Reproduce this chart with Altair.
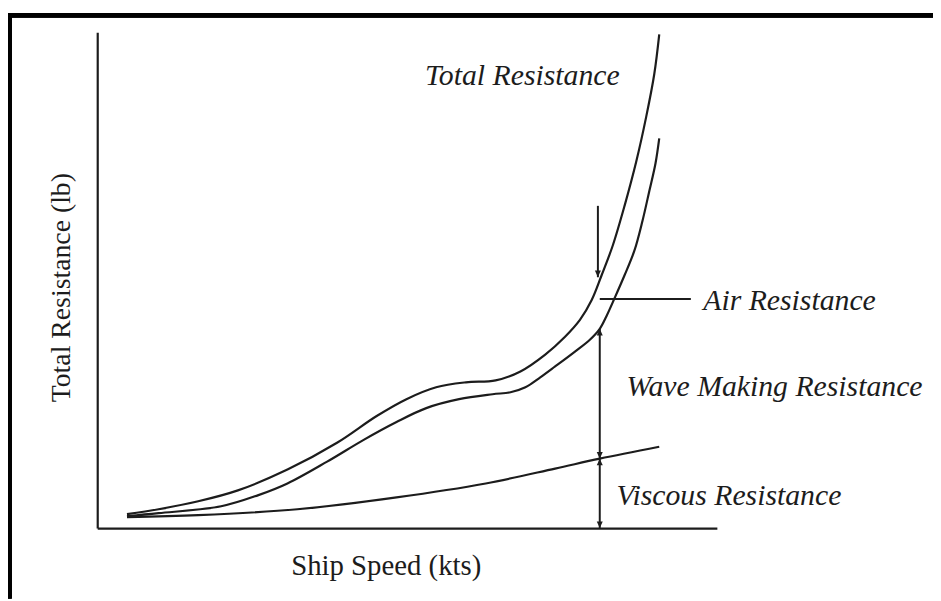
import altair as alt
import pandas as pd

# ---- data (speed 0-100, resistance 0-100, arbitrary units) ----
total_speed = [4.8, 9.9, 16.3, 22.7, 30.7, 38.7, 45.1, 49.9, 54.7, 59.5, 64.3, 68.3, 72.3,
               75.5, 77.9, 79.8, 81.4, 83.2, 85.1, 87.0, 88.6, 89.9, 90.7]
total_res = [2.8, 3.8, 5.4, 7.6, 11.8, 17.2, 22.6, 26.0, 28.4, 29.4, 29.8, 31.6, 35.0,
             38.6, 42.0, 46.0, 51.0, 57.0, 65.0, 74.0, 83.0, 91.6, 99.6]

wave_speed = [4.8, 9.9, 20.0, 25.9, 30.7, 37.1, 43.0, 48.3, 53.1, 58.4, 63.8, 66.7, 69.1,
              71.5, 73.9, 77.1, 79.5, 81.1, 82.2, 83.5, 85.1, 86.7, 88.0, 89.1, 90.1, 90.7]
wave_res = [2.4, 3.0, 4.4, 6.6, 9.0, 13.4, 17.8, 21.4, 24.2, 26.0, 27.0, 27.4, 28.4,
            30.4, 32.6, 35.6, 38.0, 40.2, 42.8, 46.4, 51.0, 56.0, 62.0, 68.0, 73.6, 78.6]

visc_speed = [4.8, 16.3, 32.3, 48.3, 62.7, 73.9, 81.1, 90.7]
visc_res = [2.2, 2.6, 3.8, 6.2, 9.0, 12.0, 14.0, 16.4]

# annotation labels and their anchor points (data units)
label_text = ["Total Resistance", "Air Resistance", "Wave Making Resistance", "Viscous Resistance"]
label_speed = [52.9, 97.8, 85.4, 83.8]
label_res = [89.4, 44.0, 26.6, 4.6]

# arrows / leader lines (data units)
seg_name = ["air_arrow", "air_leader", "wave_span", "visc_span"]
seg_x1 = [80.8, 81.1, 81.1, 81.1]
seg_x2 = [80.8, 95.8, 81.1, 81.1]
seg_y1 = [65.0, 46.2, 40.2, 14.0]
seg_y2 = [50.6, 46.2, 14.0, 0.0]

head_x = [80.8, 81.1, 81.1, 81.1, 81.1]
head_y = [50.6, 40.2, 14.0, 14.0, 0.0]
head_dir = ["down", "up", "down", "up", "down"]

# ---- tables ----
curves = pd.concat([
    pd.DataFrame({"speed": total_speed, "res": total_res, "curve": "total"}),
    pd.DataFrame({"speed": wave_speed, "res": wave_res, "curve": "wave"}),
    pd.DataFrame({"speed": visc_speed, "res": visc_res, "curve": "viscous"}),
], ignore_index=True)
labels = pd.DataFrame({"text": label_text, "speed": label_speed, "res": label_res})
segs = pd.DataFrame({"name": seg_name, "x1": seg_x1, "x2": seg_x2, "y1": seg_y1, "y2": seg_y2})
heads = pd.DataFrame({"x": head_x, "y": head_y, "dir": head_dir})

INK = "#1c1c1c"
xscale = alt.Scale(domain=[0, 100], nice=False, zero=False)
yscale = alt.Scale(domain=[0, 100], nice=False, zero=False)

xaxis = alt.Axis(title="Ship Speed (kts)", ticks=False, labels=False, grid=False,
                 domainColor=INK, domainWidth=2.2,
                 titleFont="Liberation Serif", titleFontSize=29, titleFontWeight="normal",
                 titleColor=INK, titleX=291, titleY=38, titleAlign="center", titleBaseline="middle")
yaxis = alt.Axis(title="Total Resistance (lb)", ticks=False, labels=False, grid=False,
                 domainColor=INK, domainWidth=2.2,
                 titleFont="Liberation Serif", titleFontSize=28, titleFontWeight="normal",
                 titleColor=INK, titleX=-36, titleY=257, titleAlign="center", titleBaseline="middle",
                 titleAngle=-90)

lines = alt.Chart(curves).mark_line(color=INK, strokeWidth=2.2, interpolate="catmull-rom").encode(
    x=alt.X("speed:Q", scale=xscale, axis=xaxis),
    y=alt.Y("res:Q", scale=yscale, axis=yaxis),
    detail="curve:N",
)

rules = alt.Chart(segs).mark_rule(color=INK, strokeWidth=2).encode(
    x="x1:Q", x2="x2:Q", y="y1:Q", y2="y2:Q"
)

down_path = "M-0.45,-1L0.45,-1L0,0Z"
up_path = "M-0.45,1L0.45,1L0,0Z"
heads_down = alt.Chart(heads).transform_filter(alt.datum.dir == "down").mark_point(
    shape=down_path, filled=True, color=INK, size=180, opacity=1
).encode(x="x:Q", y="y:Q")
heads_up = alt.Chart(heads).transform_filter(alt.datum.dir == "up").mark_point(
    shape=up_path, filled=True, color=INK, size=180, opacity=1
).encode(x="x:Q", y="y:Q")

texts = alt.Chart(labels).mark_text(
    font="Liberation Serif", fontStyle="italic", fontSize=30, color=INK,
    align="left", baseline="alphabetic"
).encode(x="speed:Q", y="res:Q", text="text:N")

# decorative page frame (top and left edges only)
frame_top = alt.Chart(labels).mark_rule(color="black", strokeWidth=4.5).encode(
    x=alt.value(-91), x2=alt.value(843), y=alt.value(-17.2)
)
frame_left = alt.Chart(labels).mark_rule(color="black", strokeWidth=4.5).encode(
    x=alt.value(-88.5), y=alt.value(-19.5), y2=alt.value(571)
)

chart = alt.layer(frame_top, frame_left, lines, rules, heads_down, heads_up, texts).properties(
    width=625, height=500,
    autosize=alt.AutoSizeParams(type="none"),
    padding={"left": 90, "top": 22, "right": 218, "bottom": 71},
    background="white",
).configure_view(strokeWidth=0)

chart.save("out.html", embed_options={"renderer": "svg", "actions": False})
